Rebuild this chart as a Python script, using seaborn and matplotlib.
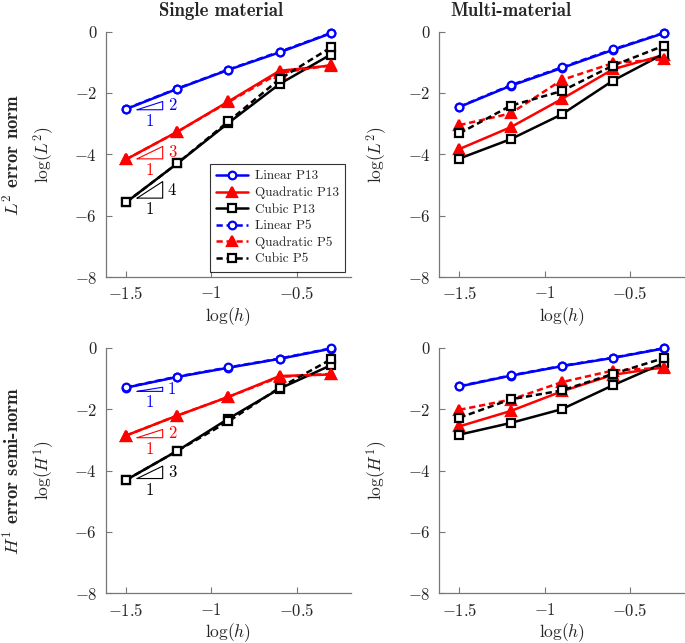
import matplotlib
matplotlib.use("Agg")
import matplotlib.pyplot as plt
import pandas as pd
import seaborn as sns

sns.set_style("ticks")
plt.rcParams["font.family"] = ["cmr10", "DejaVu Serif"]
plt.rcParams["mathtext.fontset"] = "cm"
plt.rcParams["axes.unicode_minus"] = False

# Data
log_h = [-1.5, -1.2, -0.9, -0.6, -0.3]

# L2 error norm, single material
l2_single_lin_p13 = [-2.53, -1.87, -1.25, -0.68, -0.06]
l2_single_quad_p13 = [-4.17, -3.27, -2.28, -1.28, -1.11]
l2_single_cub_p13 = [-5.57, -4.30, -2.98, -1.71, -0.75]
l2_single_lin_p5 = [-2.52, -1.86, -1.24, -0.66, -0.05]
l2_single_quad_p5 = [-4.17, -3.27, -2.30, -1.35, -1.10]
l2_single_cub_p5 = [-5.57, -4.30, -2.93, -1.55, -0.52]

# L2 error norm, multi-material
l2_multi_lin_p13 = [-2.46, -1.77, -1.19, -0.60, -0.05]
l2_multi_quad_p13 = [-3.83, -3.12, -2.20, -1.23, -0.76]
l2_multi_cub_p13 = [-4.14, -3.51, -2.70, -1.60, -0.72]
l2_multi_lin_p5 = [-2.45, -1.75, -1.17, -0.58, -0.04]
l2_multi_quad_p5 = [-3.05, -2.67, -1.58, -1.03, -0.90]
l2_multi_cub_p5 = [-3.32, -2.42, -1.94, -1.11, -0.46]

# H1 error semi-norm, single material
h1_single_lin_p13 = [-1.30, -0.95, -0.65, -0.36, -0.03]
h1_single_quad_p13 = [-2.86, -2.21, -1.60, -0.92, -0.87]
h1_single_cub_p13 = [-4.31, -3.36, -2.31, -1.33, -0.57]
h1_single_lin_p5 = [-1.29, -0.94, -0.64, -0.35, -0.02]
h1_single_quad_p5 = [-2.86, -2.21, -1.60, -0.95, -0.85]
h1_single_cub_p5 = [-4.31, -3.36, -2.40, -1.30, -0.38]

# H1 error semi-norm, multi-material
h1_multi_lin_p13 = [-1.26, -0.91, -0.60, -0.33, -0.02]
h1_multi_quad_p13 = [-2.56, -2.06, -1.42, -0.88, -0.63]
h1_multi_cub_p13 = [-2.83, -2.45, -2.00, -1.22, -0.49]
h1_multi_lin_p5 = [-1.25, -0.90, -0.59, -0.32, -0.01]
h1_multi_quad_p5 = [-2.02, -1.69, -1.12, -0.74, -0.65]
h1_multi_cub_p5 = [-2.28, -1.68, -1.39, -0.85, -0.33]

series_names = ["Linear P13", "Quadratic P13", "Cubic P13",
                "Linear P5", "Quadratic P5", "Cubic P5"]

panels = {
  (0, 0): [l2_single_lin_p13, l2_single_quad_p13, l2_single_cub_p13,
           l2_single_lin_p5, l2_single_quad_p5, l2_single_cub_p5],
  (0, 1): [l2_multi_lin_p13, l2_multi_quad_p13, l2_multi_cub_p13,
           l2_multi_lin_p5, l2_multi_quad_p5, l2_multi_cub_p5],
  (1, 0): [h1_single_lin_p13, h1_single_quad_p13, h1_single_cub_p13,
           h1_single_lin_p5, h1_single_quad_p5, h1_single_cub_p5],
  (1, 1): [h1_multi_lin_p13, h1_multi_quad_p13, h1_multi_cub_p13,
           h1_multi_lin_p5, h1_multi_quad_p5, h1_multi_cub_p5],
}

# slope triangles (single material panels only)
tri_x = [-1.435, -1.285]
l2_tri_base = [-2.55, -4.15, -5.43]
l2_tri_slope = [2, 3, 4]
h1_tri_base = [-1.42, -2.93, -4.26]
h1_tri_slope = [1, 2, 3]

col_titles = ["Single material", "Multi-material"]
row_titles = [r"$L^2$ error norm", r"$H^1$ error semi-norm"]
y_labels = [r"$\log(L^2)$", r"$\log(H^1)$"]
x_ticks = [-1.5, -1.0, -0.5]
x_tick_labels = [r"$-1.5$", r"$-1$", r"$-0.5$"]
y_ticks = [0, -2, -4, -6, -8]
y_tick_labels = [r"$0$", r"$-2$", r"$-4$", r"$-6$", r"$-8$"]

colors = ["#0000ff", "#ff0000", "#000000"] * 2
markers = ["o", "^", "s"] * 2
styles = ["-"] * 3 + [(0, (2.5, 1.5))] * 3

W, H = 685, 643
fig = plt.figure(figsize=(W / 100, H / 100), dpi=100)

ax_left = [105.5, 438.9]
ax_bottom = [277, 593.3]
ax_w, ax_h = 245.8, 245.5

for (r, c), ys in panels.items():
  ax = fig.add_axes([ax_left[c] / W, 1 - ax_bottom[r] / H, ax_w / W, ax_h / H])
  for i, y in enumerate(ys):
    df = pd.DataFrame({"x": log_h, "y": y})
    face = "#ff0000" if markers[i] == "^" else "white"
    sns.lineplot(data=df, x="x", y="y", ax=ax, color=colors[i],
                 marker=markers[i], linestyle=styles[i], linewidth=1.8,
                 markersize=5.5 if markers[i] != "^" else 7,
                 markerfacecolor=face, markeredgecolor=colors[i],
                 markeredgewidth=1.6, label=series_names[i], clip_on=False,
                 zorder=3 + i)

  if c == 0:
    bases = l2_tri_base if r == 0 else h1_tri_base
    slopes = l2_tri_slope if r == 0 else h1_tri_slope
    for b, s, col in zip(bases, slopes, colors[:3]):
      rise = s * 0.135
      ax.plot([tri_x[0], tri_x[1], tri_x[1], tri_x[0]],
              [b, b, b + rise, b], color=col, lw=0.8, zorder=2)
      ax.text(tri_x[1] + 0.03, b + rise / 2, str(s), color=col,
              fontsize=12, ha="left", va="center")
      ax.text((tri_x[0] + tri_x[1]) / 2, b - 0.12, "1", color=col,
              fontsize=12, ha="center", va="top")

  ax.set_xlim(-1.62, -0.18)
  ax.set_ylim(-8, 0)
  ax.set_xticks(x_ticks)
  ax.set_xticklabels(x_tick_labels)
  ax.set_yticks(y_ticks)
  ax.set_yticklabels(y_tick_labels)
  ax.tick_params(direction="in", length=4, width=0.8, color="#777777",
                 labelsize=12, pad=6)
  for side in ["top", "right"]:
    ax.spines[side].set_visible(False)
  for side in ["left", "bottom"]:
    ax.spines[side].set_color("#777777")
    ax.spines[side].set_linewidth(0.9)
  ax.set_xlabel(r"$\log(h)$", fontsize=12.5, va="center")
  ax.set_ylabel(y_labels[r], fontsize=12.5, va="center")
  ax.xaxis.set_label_coords(0.5, -0.16)
  ax.yaxis.set_label_coords(-0.254, 0.5)
  ax.patch.set_visible(False)

  if (r, c) == (0, 0):
    leg = ax.legend(loc="lower right", bbox_to_anchor=(0.976, 0.02),
                    fontsize=9.5, frameon=True, fancybox=False,
                    handlelength=2.4, handletextpad=0.5, labelspacing=0.32,
                    borderpad=0.5, borderaxespad=0)
    leg.get_frame().set_edgecolor("black")
    leg.get_frame().set_linewidth(0.8)
  else:
    ax.get_legend().remove()

# column and row titles
fig.text(221 / W, 1 - 11 / H, col_titles[0], ha="center", va="center",
         family="cmb10", fontsize=13.5)
fig.text(511 / W, 1 - 11 / H, col_titles[1], ha="center", va="center",
         family="cmb10", fontsize=13.5)
fig.text(13 / W, 1 - 155 / H, row_titles[0], ha="center", va="center",
         rotation=90, family="cmb10", fontsize=13.5)
fig.text(13 / W, 1 - 471 / H, row_titles[1], ha="center", va="center",
         rotation=90, family="cmb10", fontsize=13.5)

fig.savefig("out.png", dpi=100)
